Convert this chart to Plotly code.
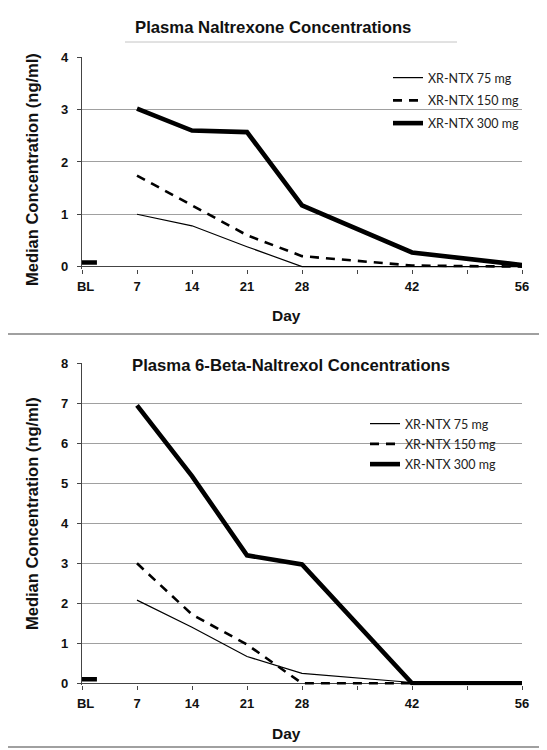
import plotly.graph_objects as go

# ---------------- data ----------------
days = [7, 14, 21, 28, 42, 56]
tick_days = [0, 7, 14, 21, 28, 35, 42, 49, 56]
tick_labels = ["\u00a0\u00a0BL", "7", "14", "21", "28", "", "42", "", "56"]
series_names = ["XR-NTX 75 mg", "XR-NTX 150 mg", "XR-NTX 300 mg"]

# Plasma naltrexone (ng/ml)
ntx_75 = [1.00, 0.78, 0.38, 0.00, 0.00, 0.00]
ntx_150 = [1.74, 1.17, 0.60, 0.20, 0.02, 0.00]
ntx_300 = [3.02, 2.60, 2.57, 1.17, 0.27, 0.03]

# Plasma 6-beta-naltrexol (ng/ml)
nol_75 = [2.08, 1.40, 0.67, 0.25, 0.02, 0.00]
nol_150 = [3.00, 1.72, 0.97, 0.00, 0.00, 0.00]
nol_300 = [6.95, 5.18, 3.20, 2.97, 0.00, 0.00]

# baseline marker (short bar at BL)
bl_days = [0, 1.9]
bl_top = [0.08, 0.08]
bl_bottom = [0.10, 0.10]

# ---------------- layout helpers ----------------
# the page body has an 8px margin, so the figure starts at page pixel (8, 8)
OFF = 8
W, H = 547 - OFF, 750 - OFF
def px_x(p):
    return (p - OFF) / W
def px_y(p):
    return 1 - (p - OFF) / H

X0, X1 = 82, 522            # plot left/right (page px)
T_TOP, T_ZERO = 57.3, 266.6  # top chart: y=4 and y=0 pixels
B_TOP, B_ZERO = 363.3, 683.3 # bottom chart: y=8 and y=0 pixels
T_MAX, B_MAX = 4, 8
t_unit = (T_ZERO - T_TOP) / T_MAX
b_unit = (B_ZERO - B_TOP) / B_MAX
T_NEG, B_NEG = 2.0 / t_unit, 2.0 / b_unit

styles = [
    dict(color="black", width=1.2),
    dict(color="black", width=2.6, dash="9px,7px"),
    dict(color="black", width=4.6),
]

fig = go.Figure()

top_series = [ntx_75, ntx_150, ntx_300]
bot_series = [nol_75, nol_150, nol_300]

for i, (name, ys) in enumerate(zip(series_names, top_series)):
    fig.add_trace(go.Scatter(x=days, y=ys, mode="lines", name=name, line=styles[i],
                             xaxis="x", yaxis="y", legend="legend",
                             legendgroup="t%d" % i))
fig.add_trace(go.Scatter(x=bl_days, y=bl_top, mode="lines", showlegend=False,
                         line=dict(color="black", width=4.5), xaxis="x", yaxis="y"))

for i, (name, ys) in enumerate(zip(series_names, bot_series)):
    fig.add_trace(go.Scatter(x=days, y=ys, mode="lines", name=name, line=styles[i],
                             xaxis="x2", yaxis="y2", legend="legend2",
                             legendgroup="b%d" % i))
fig.add_trace(go.Scatter(x=bl_days, y=bl_bottom, mode="lines", showlegend=False,
                         line=dict(color="black", width=4.5), xaxis="x2", yaxis="y2"))

FAM = "Liberation Sans, Arial, sans-serif"
tick_font = dict(family=FAM, size=13, color="#111", weight="bold")
title_font = dict(family=FAM, size=16.7, color="#111", weight="bold")
day_font = dict(family=FAM, size=15.5, color="#111", weight="bold")
ytitle_font = dict(family=FAM, size=16.5, color="#111", weight="bold")

xaxis_common = dict(
    range=[0, 56], tickmode="array", tickvals=tick_days, ticktext=tick_labels,
    showgrid=False, zeroline=False, showline=False, automargin=False,
    ticks="outside", ticklen=4, tickcolor="#444", tickwidth=1,
    tickfont=tick_font, ticklabelstandoff=2, fixedrange=True,
    domain=[px_x(X0), px_x(X1)],
)
yaxis_common = dict(
    showgrid=True, gridcolor="#a0a0a0", gridwidth=1.3, automargin=False,
    zeroline=True, zerolinecolor="#444", zerolinewidth=1.2,
    showline=True, linecolor="#444", linewidth=1.2,
    ticks="outside", ticklen=4, tickcolor="#444",
    tickfont=tick_font, ticklabelstandoff=6, fixedrange=True,
)

LEG_FONT = dict(family="Lato, Open Sans, sans-serif", size=12.5, color="#222")

fig.update_layout(
    template="none",
    width=W, height=H,
    margin=dict(l=0, r=0, t=0, b=0, pad=0),
    paper_bgcolor="white", plot_bgcolor="white",
    xaxis=dict(**xaxis_common, anchor="y"),
    yaxis=dict(**yaxis_common, range=[-T_NEG, T_MAX], tickvals=[0, 1, 2, 3, 4],
               domain=[px_y(T_ZERO + 2.0), px_y(T_TOP)], anchor="x"),
    xaxis2=dict(**xaxis_common, anchor="y2"),
    yaxis2=dict(**yaxis_common, range=[-B_NEG, B_MAX], tickvals=list(range(0, 9)),
                domain=[px_y(B_ZERO + 2.0), px_y(B_TOP)], anchor="x2"),
    legend=dict(x=px_x(388), y=px_y(63), xanchor="left", yanchor="top",
                bgcolor="rgba(0,0,0,0)", borderwidth=0, itemwidth=30, tracegroupgap=3.5,
                font=LEG_FONT),
    legend2=dict(x=px_x(365), y=px_y(409), xanchor="left", yanchor="top",
                 bgcolor="rgba(0,0,0,0)", borderwidth=0, itemwidth=30, tracegroupgap=1,
                 font=LEG_FONT),
    showlegend=True,
)

annotations = [
    dict(text="Plasma Naltrexone Concentrations", x=px_x(273), y=px_y(27.5),
         font=title_font),
    dict(text="Plasma 6-Beta-Naltrexol Concentrations", x=px_x(291), y=px_y(365),
         font=title_font),
    dict(text="Day", x=px_x(286), y=px_y(315), font=day_font),
    dict(text="Day", x=px_x(286), y=px_y(733), font=day_font),
    dict(text="Median Concentration (ng/ml)", x=px_x(32), y=px_y(170),
         textangle=-90, font=ytitle_font),
    dict(text="Median Concentration (ng/ml)", x=px_x(32), y=px_y(514),
         textangle=-90, font=ytitle_font),
]
for a in annotations:
    a.update(xref="paper", yref="paper", showarrow=False, xanchor="center", yanchor="middle")
fig.update_layout(annotations=annotations)

shapes = [
    dict(type="rect", x0=px_x(3), x1=px_x(543), y0=px_y(334), y1=px_y(3),
         line=dict(color="#a0a0a0", width=2)),
    dict(type="rect", x0=px_x(3), x1=px_x(543), y0=px_y(747), y1=px_y(334),
         line=dict(color="#a0a0a0", width=2)),
    dict(type="line", x0=px_x(125), x1=px_x(457), y0=px_y(42), y1=px_y(42),
         line=dict(color="#c4c4c4", width=1)),
]
for s in shapes:
    s.update(xref="paper", yref="paper")
fig.update_layout(shapes=shapes)

fig.write_html("out.html")
